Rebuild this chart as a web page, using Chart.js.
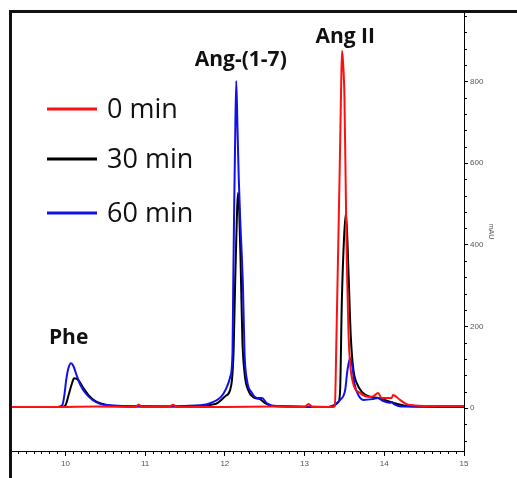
<!DOCTYPE html>
<html>
<head>
<meta charset="utf-8">
<style>
  body { margin: 0; background: #fff; }
  #chart { display: block; }
</style>
</head>
<body>
<canvas id="chart" width="517" height="478"></canvas>
<script src="https://cdn.jsdelivr.net/npm/chart.js@4.4.0/dist/chart.umd.min.js"></script>
<script>
// retention time (min) and absorbance (mAU)
var red_t = [9.33, 9.9, 10.4, 10.88, 10.92, 10.96, 11.3, 11.35, 11.4, 12.0, 12.6, 13.0, 13.05, 13.1, 13.36, 13.38, 13.40, 13.42, 13.44, 13.46, 13.47, 13.485, 13.50, 13.518, 13.53, 13.55, 13.571, 13.609, 13.697, 13.822, 13.87, 13.922, 13.969, 14.094, 14.11, 14.198, 14.3, 14.6, 15];
var red_v = [3, 3, 4, 3, 9, 3, 3, 8, 3, 3, 4, 3, 10, 3, 3, 5, 175, 375, 575, 800, 875, 840, 764, 518, 356, 191, 110, 61, 37, 27, 30, 37, 25, 25, 32, 20, 8, 5, 5];

var black_t = [9.33, 9.95, 10.0, 10.04, 10.075, 10.11, 10.16, 10.226, 10.29, 10.376, 10.476, 10.6, 11.5, 11.88, 12.005, 12.08, 12.11, 12.13, 12.15, 12.164, 12.18, 12.2, 12.22, 12.25, 12.293, 12.356, 12.44, 12.506, 12.6, 13.3, 13.425, 13.446, 13.467, 13.496, 13.52, 13.55, 13.58, 13.613, 13.655, 13.718, 13.822, 13.92, 14.13, 14.3, 15];
var black_v = [3, 3, 7, 32, 56, 73, 69, 49, 32, 17, 10, 5, 4, 10, 29, 56, 142, 314, 461, 527, 486, 339, 167, 81, 44, 27, 22, 12, 5, 3, 15, 44, 257, 420, 478, 339, 175, 93, 61, 40, 28, 25, 12, 5, 4];

var blue_t = [9.33, 9.9, 9.96, 9.987, 10.01, 10.038, 10.07, 10.1, 10.14, 10.19, 10.25, 10.34, 10.44, 10.56, 11.0, 11.692, 11.817, 11.984, 12.068, 12.096, 12.105, 12.115, 12.128, 12.143, 12.158, 12.175, 12.193, 12.227, 12.247, 12.277, 12.34, 12.402, 12.465, 12.528, 12.65, 13.3, 13.405, 13.446, 13.509, 13.538, 13.571, 13.6, 13.625, 13.675, 13.738, 13.85, 13.92, 13.98, 14.07, 14.094, 14.12, 14.25, 15];
var blue_v = [3, 3, 7, 32, 69, 98, 110, 103, 81, 56, 37, 20, 10, 7, 4, 7, 12, 36, 77, 135, 298, 461, 640, 801, 690, 560, 461, 298, 135, 69, 37, 25, 25, 12, 5, 3, 12, 20, 44, 93, 122, 101, 61, 32, 20, 22, 25, 18, 13, 15, 10, 4, 3];

var series_labels = ['0 min', '30 min', '60 min'];
var series_colors = ['#ff1010', '#000000', '#1010e8'];

var x_ticks = [10, 11, 12, 13, 14, 15];
var y_ticks = [0, 200, 400, 600, 800];

// peak names and where they sit (time, mAU)
var peak_names = ['Phe', 'Ang-(1-7)', 'Ang II'];
var peak_t = [10.04, 12.2, 13.51];
var peak_v = [172, 852, 908];

function pts(ts, vs) {
    return ts.map(function (t, i) { return { x: t, y: vs[i] }; });
}

// frame, minor ticks, legend and peak names
var extras = {
    id: 'extras',
    afterDraw: function (chart) {
        var ctx = chart.ctx;
        var xs = chart.scales.x, ys = chart.scales.y;
        ctx.save();
        ctx.strokeStyle = '#000';
        ctx.lineWidth = 1;
        ctx.beginPath();
        for (var i = 94; i <= 150; i++) {
            if (i % 10 === 0) continue;
            var px = Math.round(xs.getPixelForValue(i / 10)) + 0.5;
            ctx.moveTo(px, xs.top);
            ctx.lineTo(px, xs.top + 3);
        }
        for (var v = -80; v <= 960; v += 40) {
            if (v % 200 === 0) continue;
            var py = Math.round(ys.getPixelForValue(v)) + 0.5;
            ctx.moveTo(ys.left, py);
            ctx.lineTo(ys.left + 3, py);
        }
        ctx.stroke();

        // outer frame
        ctx.fillStyle = '#111';
        ctx.fillRect(9, 10, 3, 468);
        ctx.fillRect(9, 10, 508, 3);

        // legend
        var ly = [109, 159, 213];
        for (var k = 0; k < 3; k++) {
            ctx.strokeStyle = series_colors[k];
            ctx.lineWidth = 3;
            ctx.beginPath();
            ctx.moveTo(47, ly[k]);
            ctx.lineTo(97, ly[k]);
            ctx.stroke();
            ctx.fillStyle = '#111';
            ctx.font = '27px "Open Sans"';
            ctx.textAlign = 'left';
            ctx.textBaseline = 'middle';
            ctx.fillText(series_labels[k], 107, ly[k] + 1);
        }

        // peak names
        ctx.font = 'bold 21px "Open Sans"';
        ctx.textAlign = 'center';
        ctx.fillStyle = '#111';
        for (var j = 0; j < peak_names.length; j++) {
            ctx.fillText(peak_names[j], xs.getPixelForValue(peak_t[j]), ys.getPixelForValue(peak_v[j]));
        }
        ctx.restore();
    }
};

var datasets = [
    { label: series_labels[0], data: pts(red_t, red_v), borderColor: series_colors[0], order: 0 },
    { label: series_labels[1], data: pts(black_t, black_v), borderColor: series_colors[1], order: 2 },
    { label: series_labels[2], data: pts(blue_t, blue_v), borderColor: series_colors[2], order: 1 }
];
datasets.forEach(function (d) {
    d.showLine = true;
    d.pointRadius = 0;
    d.borderWidth = 2;
    d.cubicInterpolationMode = 'monotone';
});

var chart = new Chart(document.getElementById('chart').getContext('2d'), {
    type: 'scatter',
    data: { datasets: datasets },
    options: {
        responsive: false,
        animation: false,
        devicePixelRatio: 1,
        layout: { padding: { left: 12, top: 12, right: 0, bottom: 0 } },
        plugins: { legend: { display: false }, tooltip: { enabled: false } },
        scales: {
            x: {
                type: 'linear',
                position: 'bottom',
                min: 9.33,
                max: 15,
                afterBuildTicks: function (s) { s.ticks = x_ticks.map(function (v) { return { value: v }; }); },
                afterFit: function (s) { s.height = 27; },
                grid: { drawOnChartArea: false, tickLength: 5, color: '#000' },
                border: { color: '#000', width: 1 },
                ticks: { color: '#555', font: { size: 8, family: 'Liberation Sans' }, padding: 3, maxRotation: 0 }
            },
            y: {
                type: 'linear',
                position: 'right',
                min: -105,
                max: 970,
                afterBuildTicks: function (s) { s.ticks = y_ticks.map(function (v) { return { value: v }; }); },
                afterFit: function (s) { s.width = 53; },
                grid: { drawOnChartArea: false, tickLength: 4, color: '#000' },
                border: { color: '#000', width: 1 },
                ticks: { color: '#555', font: { size: 8, family: 'Liberation Sans' }, padding: 2 },
                title: { display: true, text: 'mAU', color: '#555', font: { size: 7, family: 'Liberation Sans' }, padding: { top: 22, bottom: 0 } }
            }
        }
    },
    plugins: [extras]
});
</script>
</body>
</html>
